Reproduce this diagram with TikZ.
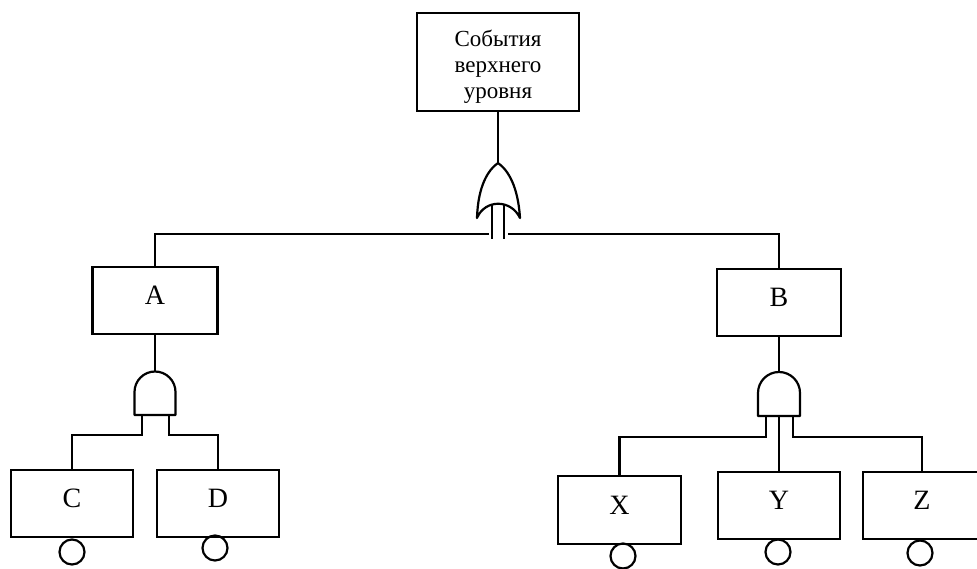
\documentclass[tikz,border=0pt]{standalone}
\usepackage{fontspec}
\setmainfont{Liberation Serif}
\begin{document}
\begin{tikzpicture}[x=1pt, y=-1pt, line width=2.2pt,
  event/.style={draw, rectangle, inner sep=0pt, fill=white,
    font=\fontsize{28}{32}\selectfont, text height=18pt, text depth=10pt},
  topevent/.style={draw, rectangle, inner sep=0pt,
    font=\fontsize{23}{26}\selectfont},
  basic/.style={draw, circle, inner sep=0pt, minimum size=25pt},
  gate/.style={draw, fill=white, line join=round}
]
\useasboundingbox (0,0) rectangle (977,569);

% events
\node[topevent, minimum width=162pt, minimum height=98pt] (top) at (498,62)
  {\raisebox{-5pt}[\height][\depth]{\begin{tabular}{@{}c@{}}События\\верхнего\\уровня\end{tabular}}};
\node[event, minimum width=125pt, minimum height=67pt] (A) at (155,300.5) {A};
\node[event, minimum width=124pt, minimum height=67pt] (B) at (779,302.5) {B};
\node[event, minimum width=122pt, minimum height=67pt] (C) at (72,503.5) {C};
\node[event, minimum width=122pt, minimum height=67pt] (D) at (218,503.5) {D};
\node[event, minimum width=123pt, minimum height=68pt] (X) at (619.5,510) {X};
\node[event, minimum width=122pt, minimum height=67pt] (Y) at (779,505.5) {Y};
\node[event, minimum width=118pt, minimum height=67pt] (Z) at (922,505.5) {Z};

% basic events under the leaves
\node[basic] (cC) at (72,552) {};
\node[basic] (cD) at (215,548) {};
\node[basic] (cX) at (623,556) {};
\node[basic] (cY) at (778,552) {};
\node[basic] (cZ) at (920,553) {};

% OR gate under the top event
\coordinate (orTop) at (498,163);
\coordinate (orL) at (489,234);
\coordinate (orR) at (508,234);
\draw (492,200) -- (492,239);
\draw (504,200) -- (504,239);
\path[gate] (477,218) .. controls (478,186) and (488,170) .. (orTop)
  .. controls (508,170) and (518,186) .. (520,218)
  .. controls (511,199) and (485,199) .. cycle;
\draw (top.south) -- (orTop);
\draw (orL) -| (A.north);
\draw (orR) -| (B.north);

% AND gate under A
\coordinate (aTop) at (155,371.5);
\coordinate (aInL) at (142,435);
\coordinate (aInR) at (169,435);
\draw (142,410) -- (aInL) -| (C.north);
\draw (169,410) -- (aInR) -| (D.north);
\path[gate] (134.5,415) -- (134.5,392) .. controls (134.5,380.7) and (143.7,371.5) .. (aTop)
  .. controls (166.3,371.5) and (175.5,380.7) .. (175.5,392) -- (175.5,415) -- cycle;
\draw (A.south) -- (aTop);

% AND gate under B
\coordinate (bTop) at (779,372);
\coordinate (bInL) at (766,437);
\coordinate (bInR) at (793,437);
\coordinate (bMid) at (779,416);
\draw (766,410) -- (bInL) -| (X.north);
\draw (793,410) -- (bInR) -| (Z.north);
\path[gate] (758,416) -- (758,393) .. controls (758,381.4) and (767.4,372) .. (bTop)
  .. controls (790.6,372) and (800,381.4) .. (800,393) -- (800,416) -- cycle;
\draw (B.south) -- (bTop);
\draw (bMid) -- (Y.north);
\end{tikzpicture}
\end{document}
